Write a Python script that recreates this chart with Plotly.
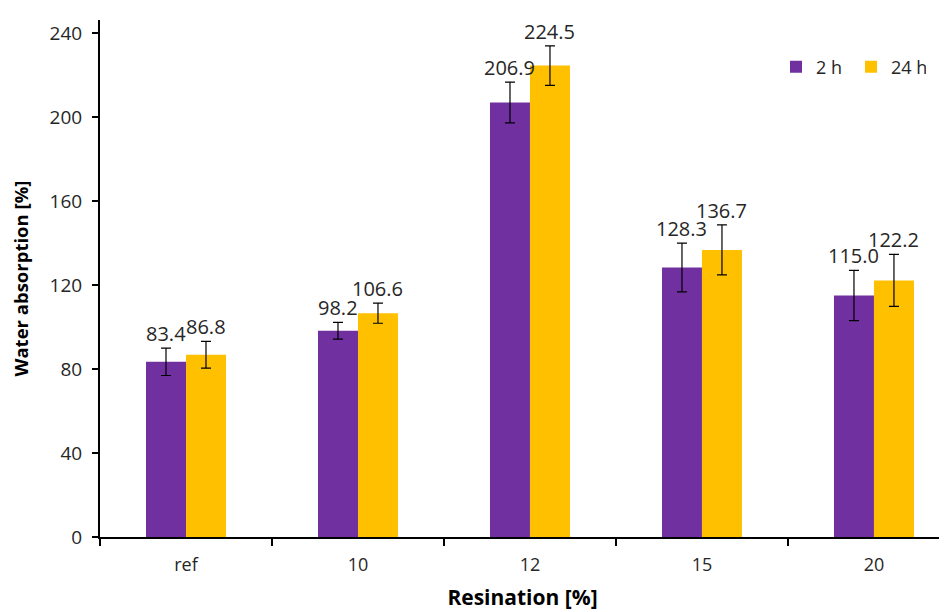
import plotly.graph_objects as go

categories = ["ref", "10", "12", "15", "20"]
vals_2h = [83.4, 98.2, 206.9, 128.3, 115.0]
vals_24h = [86.8, 106.6, 224.5, 136.7, 122.2]
err_2h = [6.5, 4.0, 9.7, 11.6, 12.0]
err_24h = [6.4, 4.8, 9.4, 11.9, 12.4]
y_ticks = [0, 40, 80, 120, 160, 200, 240]

PURPLE = "#7030A0"
GOLD = "#FFC000"
FONT = "Open Sans"
TXT = "#262626"

fig = go.Figure()
fig.add_trace(go.Bar(
    x=categories, y=vals_2h, name="2 h", marker=dict(color=PURPLE, line=dict(width=0)),
    error_y=dict(type="data", array=err_2h, visible=True, color="black", thickness=1.2, width=5),
))
fig.add_trace(go.Bar(
    x=categories, y=vals_24h, name="24 h", marker=dict(color=GOLD, line=dict(width=0)),
    error_y=dict(type="data", array=err_24h, visible=True, color="black", thickness=1.2, width=5),
))

for vals, errs, shift in [(vals_2h, err_2h, -20), (vals_24h, err_24h, 20)]:
    for i, (v, e) in enumerate(zip(vals, errs)):
        fig.add_annotation(
            x=i, y=v + e, xref="x", yref="y", text=f"{v:.1f}", showarrow=False,
            xshift=shift, yshift=-1, yanchor="bottom", xanchor="center",
            font=dict(family=FONT, size=20, color=TXT),
        )

fig.update_layout(
    width=947, height=612,
    margin=dict(l=92, r=10, t=12, b=83, autoexpand=False),
    paper_bgcolor="white", plot_bgcolor="white",
    barmode="group", bargap=0.535, bargroupgap=0,
    font=dict(family=FONT, size=16, color=TXT),
    showlegend=True,
    legend=dict(orientation="h", x=0.80, y=0.909, xanchor="left", yanchor="middle",
                font=dict(family=FONT, size=18, color=TXT),
                bgcolor="rgba(0,0,0,0)", itemwidth=30, tracegroupgap=0,
                entrywidth=30, entrywidthmode="pixels"),
)
fig.update_xaxes(
    type="category", range=[-0.5, 4.413], automargin=False,
    showline=True, linecolor="black", linewidth=2,
    ticks="outside", tickson="boundaries", ticklen=7, tickwidth=2, tickcolor="black",
    showgrid=False, zeroline=False, ticklabelstandoff=10,
    tickfont=dict(family=FONT, size=18, color=TXT),
    title=dict(text="<b>Resination [%]</b>", font=dict(family=FONT, size=21, color="black"), standoff=16),
)
fig.update_yaxes(
    range=[0, 246.2], tickvals=y_ticks, automargin=False,
    showline=True, linecolor="black", linewidth=2,
    ticks="outside", ticklen=6, tickwidth=2, tickcolor="black",
    showgrid=False, zeroline=False, ticklabelstandoff=6,
    tickfont=dict(family=FONT, size=19, color=TXT),
    title=dict(text="<b>Water absorption [%]</b>", font=dict(family=FONT, size=18.5, color="black"), standoff=16),
)

fig.write_html("out.html")
